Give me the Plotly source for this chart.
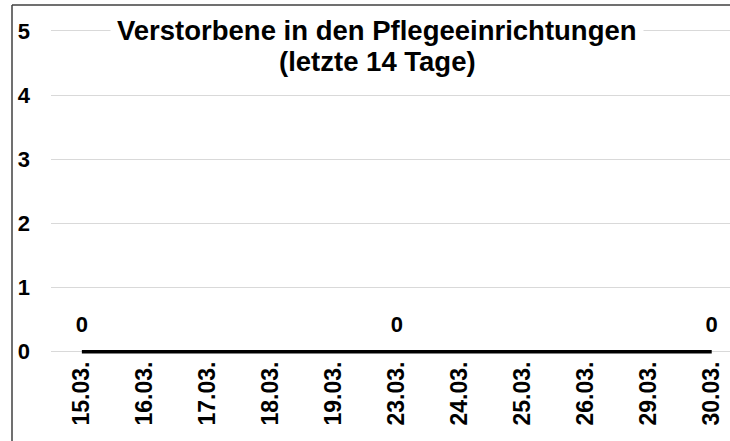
import plotly.graph_objects as go

# Daily deaths in care facilities over the last 14 days
dates = ["15.03.", "16.03.", "17.03.", "18.03.", "19.03.", "23.03.",
         "24.03.", "25.03.", "26.03.", "29.03.", "30.03."]
deaths = [0, 0, 0, 0, 0, 0, 0, 0, 0, 0, 0]
labelled = [0, 5, 10]  # points that carry a value label
y_ticks = [0, 1, 2, 3, 4, 5]

title_lines = ["Verstorbene in den Pflegeeinrichtungen", "(letzte 14 Tage)"]

W, H = 730, 441
ML, MR, MT, MB = 51, 0, 10, 86
FONT = "Liberation Sans, Arial, sans-serif"

labels = [str(v) if i in labelled else "" for i, v in enumerate(deaths)]

fig = go.Figure()
fig.add_trace(go.Scatter(
    x=list(range(len(dates))), y=deaths,
    mode="lines+markers+text",
    line=dict(color="black", width=3.5),
    marker=dict(size=22, color="rgba(0,0,0,0)"),
    text=labels, textposition="top center",
    textfont=dict(family=FONT, size=22, color="black", weight="bold"),
    cliponaxis=False, hoverinfo="skip",
))

plot_w = W - ML - MR
plot_h = H - MT - MB

fig.update_layout(
    width=W, height=H,
    margin=dict(l=ML, r=MR, t=MT, b=MB, pad=0),
    paper_bgcolor="white", plot_bgcolor="white",
    showlegend=False,
    xaxis=dict(
        range=[-0.49, 10.29],
        tickmode="array", tickvals=list(range(len(dates))), ticktext=dates,
        tickangle=-90, showgrid=False, zeroline=False,
        showline=False,
        ticks="", ticklabelstandoff=1,
        tickfont=dict(family=FONT, size=23, color="black", weight="bold"),
    ),
    yaxis=dict(
        range=[-0.05, 5.324],
        tickmode="array", tickvals=y_ticks,
        showgrid=True, gridcolor="#d9d9d9", gridwidth=1,
        zeroline=False, showline=False, ticks="",
        ticklabelstandoff=20,
        tickfont=dict(family=FONT, size=22, color="black", weight="bold"),
    ),
)

# Title: two lines, the first on a white box over the top gridline
for line, yc, bg in zip(title_lines, [30, 61], ["white", "rgba(0,0,0,0)"]):
    fig.add_annotation(
        text=line,
        xref="paper", yref="paper",
        x=(377 - ML) / plot_w, y=(H - yc - MB) / plot_h,
        xanchor="center", yanchor="middle",
        showarrow=False, bgcolor=bg, borderpad=6,
        font=dict(family=FONT, size=27.5, color="black", weight="bold"),
    )

# Outer frame: left and top edges
fx = (12 - ML) / plot_w
fy = (H - 5 - MB) / plot_h
fig.add_shape(type="line", xref="paper", yref="paper",
              x0=fx, x1=fx, y0=fy, y1=-MB / plot_h - 0.01,
              line=dict(color="#404040", width=1.5))
fig.add_shape(type="line", xref="paper", yref="paper",
              x0=fx, x1=1.01, y0=fy, y1=fy,
              line=dict(color="#404040", width=1.5))

fig.write_html("out.html")
